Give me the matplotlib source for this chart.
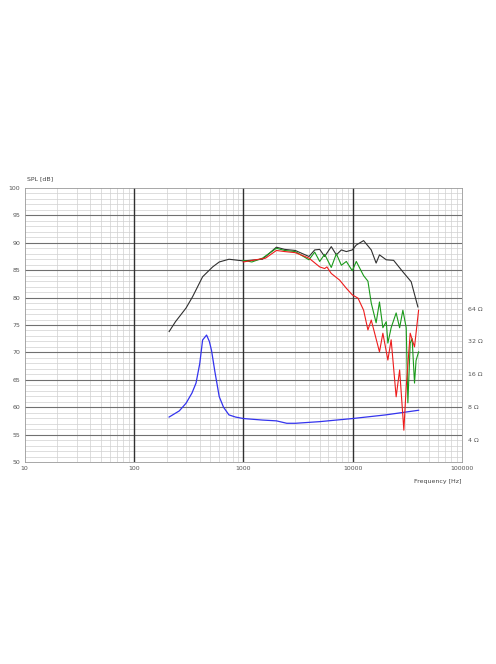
import matplotlib.pyplot as plt
import numpy as np

# SPL curves (dB) and impedance (ohm)
black_f = [210, 240, 300, 345, 425, 525, 603, 740, 1000, 1500, 2009, 2390, 2990, 3990, 4500,
           5000, 5550, 6380, 7100, 7890, 8760, 9930, 10800, 12600, 14800, 16400, 17600,
           20300, 23700, 28800, 34300, 39500]
black_db = [73.8, 75.6, 78.1, 80.2, 83.8, 85.6, 86.5, 87.0, 86.7, 87.0, 89.2, 88.8, 88.6, 87.5, 88.7,
            88.8, 87.5, 89.3, 87.8, 88.7, 88.4, 88.7, 89.6, 90.4, 88.7, 86.3, 87.8,
            86.9, 86.8, 84.7, 82.9, 78.3]

red_f = [1000, 1300, 1600, 2009, 2390, 2990, 3990, 5000, 5550, 5820, 6380, 7600, 8760, 9930,
         11200, 12600, 13800, 14800, 15900, 17600, 18900, 21000, 22500, 25000, 26900, 29400,
         30900, 33600, 36800, 40100]
red_db = [86.5, 86.9, 87.2, 88.6, 88.4, 88.2, 87.2, 85.6, 85.3, 85.6, 84.4, 83.2, 81.7, 80.5,
          79.9, 77.7, 74.1, 75.9, 73.5, 70.1, 73.5, 68.6, 72.3, 61.9, 66.8, 55.8,
          63.7, 73.5, 71.0, 77.7]

green_f = [1000, 1200, 1500, 2009, 2390, 2990, 3990, 4500, 5000, 5550, 6380, 7100, 7890, 8760,
           9930, 10800, 12600, 13800, 14800, 16400, 17600, 18900, 20300, 21000, 22500, 25000,
           26900, 28800, 30900, 32000, 33600, 35000, 36800, 38000, 40100]
green_db = [86.8, 86.5, 87.2, 89.0, 88.6, 88.4, 86.9, 88.3, 86.6, 87.9, 85.5, 88.0, 85.9, 86.6,
            84.9, 86.6, 84.0, 83.0, 79.0, 75.4, 79.2, 74.5, 75.6, 71.7, 74.5, 77.2,
            74.5, 77.7, 74.5, 60.8, 71.7, 72.5, 64.4, 68.5, 70.1]

imp_f = [210, 260, 300, 340, 370, 400, 425, 462, 490, 513, 550, 603, 660, 740, 850, 1000,
         1500, 2009, 2500, 3000, 5000, 10000, 20000, 40100]
imp_ohm = [6.5, 7.4, 8.7, 10.8, 13.3, 20.0, 33.0, 36.6, 32.0, 26.4, 17.0, 10.0, 8.0, 6.8,
           6.5, 6.3, 6.1, 6.0, 5.7, 5.7, 5.9, 6.3, 6.8, 7.5]

ohm_ticks = [4, 8, 16, 32, 64]


def ohm_to_db(ohm):
    # impedance scale: 8 ohm sits on 60 dB, one octave per 6 dB
    return 60 + 6 * np.log2(np.asarray(ohm) / 8.0)


fig = plt.figure(figsize=(4.96, 6.64), dpi=100)
ax = fig.add_axes([24.5 / 496, 202 / 664, 437.5 / 496, 274 / 664])
ax.set_xscale('log')
ax.set_xlim(10, 100000)
ax.set_ylim(50, 100)

# grid
for dec in [10, 100, 1000, 10000]:
    for m in range(2, 10):
        ax.axvline(dec * m, color='#d0d0d0', linewidth=0.5, zorder=0)
for y in range(51, 100):
    if y % 5:
        ax.axhline(y, color='#d0d0d0', linewidth=0.5, zorder=0)
for y in range(55, 100, 5):
    ax.axhline(y, color='#707070', linewidth=0.8, zorder=0)
for dec in [100, 1000, 10000]:
    ax.axvline(dec, color='#303030', linewidth=1.0, zorder=0)

ax.plot(imp_f, ohm_to_db(imp_ohm), color='#3333ee', linewidth=0.9)
ax.plot(black_f, black_db, color='#303030', linewidth=0.8)
ax.plot(green_f, green_db, color='#1a9a1a', linewidth=0.8)
ax.plot(red_f, red_db, color='#ee1c1c', linewidth=0.8)

ax.set_xticks([10, 100, 1000, 10000, 100000])
ax.set_xticklabels(['10', '100', '1000', '10000', '100000'])
ax.set_xticks([], minor=True)
ax.set_yticks(range(50, 101, 5))
ax.tick_params(labelsize=4.5, colors='#555555', length=0, pad=3)
for s in ax.spines.values():
    s.set_color('#999999')
    s.set_linewidth(0.6)

ax2 = ax.twinx()
ax2.set_ylim(50, 100)
ax2.set_yticks(ohm_to_db(ohm_ticks))
ax2.set_yticklabels([f'{o} Ω' for o in ohm_ticks])
ax2.tick_params(labelsize=4.5, colors='#555555', length=0, pad=4)
for s in ax2.spines.values():
    s.set_visible(False)

fig.text(27 / 496, 1 - 179 / 664, 'SPL [dB]', fontsize=4.5, color='#444444', va='center')
fig.text(462 / 496, 1 - 482 / 664, 'Frequency [Hz]', fontsize=4.5, color='#444444',
         va='center', ha='right')

fig.savefig('out.png', dpi=100)
